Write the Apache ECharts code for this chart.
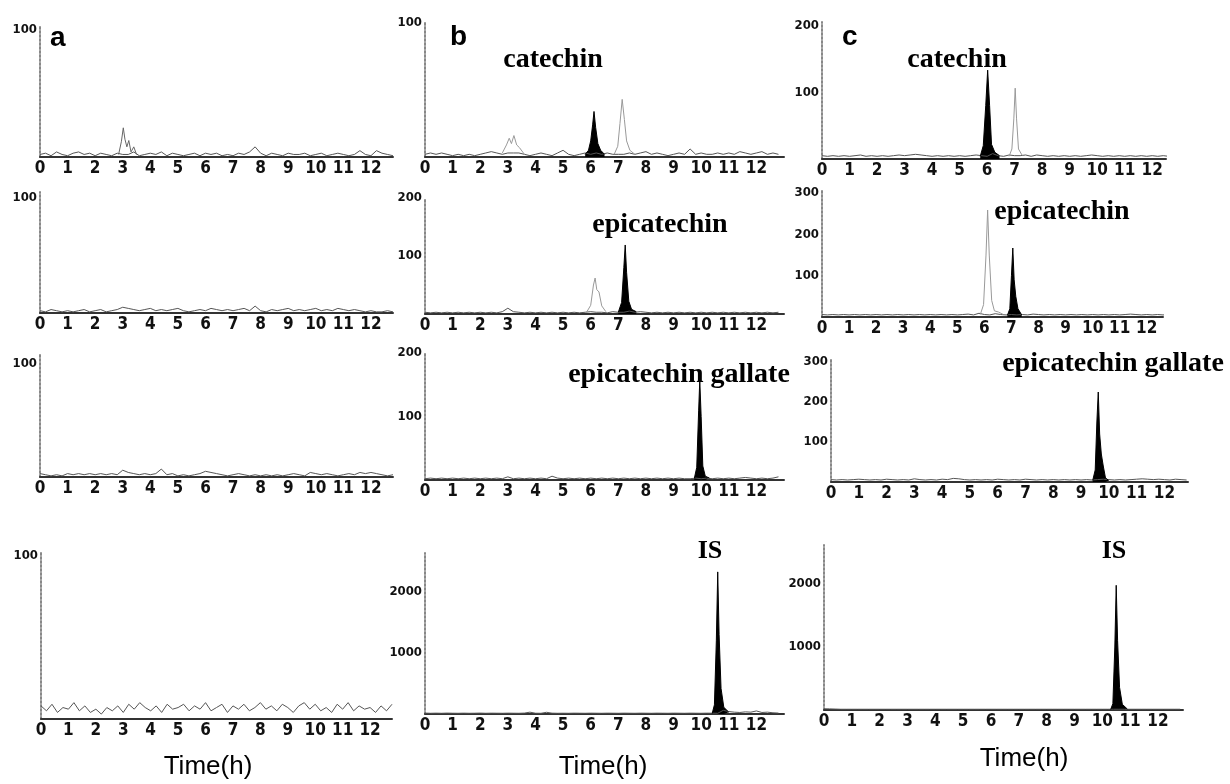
<!DOCTYPE html>
<html>
<head>
<meta charset="utf-8">
<script src="https://cdn.jsdelivr.net/npm/echarts@6/dist/echarts.min.js"></script>
<style>
  html, body { margin: 0; padding: 0; background: #fff; }
  #main { width: 1230px; height: 784px; }
</style>
</head>
<body>
<div id="main"></div>
<script>
// 时间轴采样点 (h)
const times = [
  0, 0.2, 0.4, 0.6, 0.8, 1, 1.2, 1.4, 1.6, 1.8, 2, 2.2, 2.4,
  2.6, 2.8, 3, 3.2, 3.4, 3.6, 3.8, 4, 4.2, 4.4, 4.6, 4.8, 5,
  5.2, 5.4, 5.6, 5.8, 6, 6.2, 6.4, 6.6, 6.8, 7, 7.2, 7.4, 7.6,
  7.8, 8, 8.2, 8.4, 8.6, 8.8, 9, 9.2, 9.4, 9.6, 9.8, 10, 10.2,
  10.4, 10.6, 10.8, 11, 11.2, 11.4, 11.6, 11.8, 12, 12.2, 12.4, 12.6, 12.8
];
const timeTicks = [0, 1, 2, 3, 4, 5, 6, 7, 8, 9, 10, 11, 12];

// y axis tick labels
const ticks100 = [100];
const ticks200 = [100, 200];
const ticks300 = [100, 200, 300];
const ticks2000 = [1000, 2000];

// baseline noise, column a
const noiseA1 = [
  2, 3, 1, 4, 2, 1, 3, 4, 2, 3, 1, 3, 2,
  1, 3, 2, 2, 4, 1, 2, 3, 2, 4, 1, 3, 2,
  1, 2, 3, 1, 3, 2, 3, 1, 2, 1, 3, 2, 4,
  8, 3, 1, 3, 2, 1, 3, 2, 2, 3, 1, 2, 3,
  1, 2, 3, 2, 1, 2, 5, 2, 1, 5, 3, 2, 1
];
const noiseA2 = [
  2, 1, 3, 2, 1, 2, 1, 2, 3, 1, 2, 3, 1,
  2, 3, 5, 4, 3, 2, 3, 4, 2, 3, 2, 3, 4,
  2, 1, 2, 3, 2, 4, 3, 2, 3, 2, 3, 4, 2,
  6, 2, 1, 3, 2, 3, 4, 2, 3, 2, 3, 4, 2,
  3, 2, 4, 3, 2, 3, 2, 1, 2, 1, 1, 2, 1
];
const noiseA3 = [
  3, 2, 1, 2, 1, 3, 2, 3, 2, 3, 2, 3, 2,
  3, 2, 6, 4, 3, 2, 3, 2, 3, 7, 2, 3, 1,
  2, 1, 2, 3, 5, 4, 3, 2, 1, 2, 3, 2, 1,
  2, 1, 2, 1, 2, 1, 2, 3, 2, 1, 4, 3, 2,
  3, 2, 1, 2, 3, 2, 4, 3, 4, 3, 2, 1, 2
];
const noiseA4 = [
  8, 5, 9, 4, 7, 6, 10, 5, 8, 4, 6, 3, 7,
  5, 8, 4, 9, 6, 10, 7, 5, 8, 4, 9, 6, 7,
  9, 5, 8, 6, 10, 5, 7, 9, 4, 8, 6, 9, 5,
  7, 10, 6, 8, 5, 9, 7, 4, 8, 10, 6, 9, 5,
  7, 4, 9, 6, 10, 5, 8, 6, 7, 4, 8, 5, 9
];
// column b
const noiseB1 = [
  2, 3, 2, 3, 2, 1, 2, 1, 2, 1, 2, 3, 4,
  3, 2, 3, 3, 3, 2, 1, 2, 3, 2, 1, 3, 5,
  2, 1, 2, 3, 2, 3, 2, 3, 2, 2, 2, 3, 2,
  3, 4, 2, 3, 2, 1, 2, 3, 2, 6, 2, 3, 2,
  2, 3, 2, 3, 2, 4, 3, 2, 3, 4, 2, 3, 2
];
const noiseB2 = [
  3, 2, 3, 2, 3, 2, 3, 2, 3, 2, 3, 2, 3,
  2, 4, 10, 4, 3, 2, 3, 2, 3, 2, 3, 2, 3,
  2, 3, 2, 3, 4, 3, 3, 2, 4, 3, 3, 5, 3,
  4, 3, 2, 3, 2, 3, 2, 3, 2, 3, 2, 3, 2,
  3, 2, 3, 2, 3, 2, 3, 2, 3, 2, 3, 2, 3
];
const noiseB3 = [
  2, 3, 2, 3, 2, 3, 2, 3, 2, 3, 2, 3, 2,
  3, 2, 5, 2, 3, 2, 3, 2, 3, 2, 6, 3, 2,
  3, 2, 3, 2, 3, 2, 3, 2, 3, 2, 3, 2, 3,
  2, 3, 2, 3, 2, 3, 2, 3, 2, 2, 3, 2, 3,
  2, 3, 2, 3, 2, 3, 4, 3, 2, 3, 2, 3, 5
];
const noiseB4 = [
  15, 12, 14, 12, 15, 13, 12, 14, 12, 13, 15, 12, 14,
  13, 12, 14, 13, 12, 15, 30, 13, 12, 28, 14, 12, 13,
  12, 14, 13, 12, 14, 13, 12, 14, 13, 12, 14, 13, 12,
  14, 13, 12, 14, 13, 12, 14, 13, 12, 14, 13, 12, 14,
  13, 12, 60, 40, 30, 25, 35, 30, 50, 25, 30, 20, 15
];
// column c
const noiseC1 = [
  5, 4, 5, 4, 5, 4, 5, 6, 4, 5, 4, 5, 4,
  5, 6, 5, 6, 7, 6, 5, 4, 5, 4, 5, 4, 5,
  4, 5, 6, 5, 4, 8, 5, 4, 6, 5, 5, 6, 4,
  6, 5, 4, 5, 4, 5, 4, 5, 4, 5, 6, 5, 4,
  5, 4, 5, 4, 5, 4, 5, 4, 5, 4, 5, 4, 5
];
const noiseC2 = [
  6, 5, 6, 5, 6, 5, 6, 5, 6, 5, 6, 5, 6,
  5, 6, 5, 6, 5, 6, 5, 6, 5, 6, 5, 6, 5,
  6, 7, 5, 9, 6, 5, 8, 6, 5, 6, 5, 6, 5,
  7, 6, 5, 6, 5, 6, 5, 6, 5, 6, 5, 6, 5,
  6, 5, 6, 5, 6, 7, 6, 5, 6, 5, 6, 5, 6
];
const noiseC3 = [
  6, 5, 6, 5, 6, 7, 6, 5, 6, 5, 7, 6, 5,
  6, 5, 8, 6, 5, 6, 5, 7, 6, 9, 8, 6, 5,
  6, 5, 6, 5, 7, 6, 5, 6, 5, 7, 6, 5, 6,
  5, 6, 5, 6, 5, 6, 5, 6, 5, 6, 7, 6, 5,
  6, 5, 6, 7, 8, 7, 6, 7, 6, 5, 7, 6, 5
];
const noiseC4 = [
  20, 18, 15, 12, 12, 12, 12, 12, 12, 12, 12, 12, 12,
  12, 12, 12, 12, 12, 12, 12, 12, 12, 12, 12, 12, 12,
  12, 12, 12, 12, 12, 12, 12, 12, 12, 12, 12, 12, 12,
  12, 12, 12, 12, 12, 12, 12, 12, 12, 12, 12, 12, 12,
  12, 12, 12, 12, 12, 12, 12, 12, 12, 12, 12, 12, 12
];

// peaks [time, response]
const peakA1 = [[2.85, 2], [2.95, 12], [3.02, 23], [3.08, 14], [3.15, 8], [3.22, 13], [3.3, 4], [3.4, 8], [3.5, 2]];
const peakB1a = [[2.8, 3], [2.95, 9], [3.05, 14], [3.13, 10], [3.22, 16], [3.32, 9], [3.42, 7], [3.6, 2]];
const peakB1Cat = [[5.8, 2], [5.92, 5], [6.0, 12], [6.07, 24], [6.12, 34], [6.18, 22], [6.26, 10], [6.36, 5], [6.5, 2]];
const peakB1b = [[6.85, 2], [6.98, 8], [7.06, 25], [7.14, 43], [7.22, 28], [7.3, 12], [7.42, 5], [7.6, 2]];
const peakB2a = [[5.85, 3], [6.0, 15], [6.1, 50], [6.16, 62], [6.22, 42], [6.3, 38], [6.4, 14], [6.55, 4]];
const peakB2Epi = [[7.0, 3], [7.12, 20], [7.2, 80], [7.25, 119], [7.3, 72], [7.38, 22], [7.48, 8], [7.65, 4]];
const peakB3Ecg = [[9.75, 2], [9.84, 20], [9.91, 110], [9.95, 157], [10.0, 100], [10.06, 22], [10.15, 6], [10.3, 3]];
const peakB4IS = [[10.4, 10], [10.48, 150], [10.55, 1200], [10.6, 2330], [10.65, 1300], [10.72, 420], [10.82, 110], [11.0, 30]];
const peakC1Cat = [[5.75, 4], [5.86, 20], [5.95, 80], [6.02, 133], [6.09, 80], [6.16, 22], [6.28, 10], [6.45, 5]];
const peakC1b = [[6.8, 4], [6.9, 15], [6.97, 60], [7.02, 106], [7.07, 60], [7.14, 15], [7.28, 5]];
const peakC2a = [[5.85, 6], [5.97, 30], [6.06, 150], [6.12, 259], [6.18, 150], [6.27, 40], [6.37, 15], [6.52, 12], [6.7, 6]];
const peakC2Epi = [[6.85, 4], [6.94, 20], [7.0, 100], [7.05, 167], [7.1, 90], [7.16, 50], [7.24, 20], [7.38, 5]];
const peakC3Ecg = [[9.42, 4], [9.51, 30], [9.57, 150], [9.62, 225], [9.67, 120], [9.73, 70], [9.8, 40], [9.88, 10], [10.0, 4]];
const peakC4IS = [[10.3, 8], [10.38, 100], [10.45, 1000], [10.5, 1980], [10.55, 1100], [10.62, 360], [10.72, 90], [10.9, 15]];

// 面板布局
const panels = [
  { left: 40, top: 25, width: 353, height: 132, xMax: 12.8, yMax: 104, step: 100, yTicks: ticks100, noise: noiseA1, peaks: [{ data: peakA1, fill: false, color: '#666' }] },
  { left: 40, top: 192, width: 353, height: 121, xMax: 12.8, yMax: 105, step: 100, yTicks: ticks100, noise: noiseA2, peaks: [] },
  { left: 40, top: 353, width: 353, height: 124, xMax: 12.8, yMax: 109, step: 100, yTicks: ticks100, noise: noiseA3, peaks: [] },
  { left: 41, top: 552, width: 351, height: 167, xMax: 12.8, yMax: 102, step: 100, yTicks: ticks100, noise: noiseA4, peaks: [] },
  { left: 425, top: 23, width: 359, height: 134, xMax: 13, yMax: 100, step: 100, yTicks: ticks100, noise: noiseB1,
    peaks: [{ data: peakB1a, fill: false }, { data: peakB1Cat, fill: true }, { data: peakB1b, fill: false }] },
  { left: 425, top: 198, width: 359, height: 116, xMax: 13, yMax: 200, step: 100, yTicks: ticks200, noise: noiseB2,
    peaks: [{ data: peakB2a, fill: false }, { data: peakB2Epi, fill: true }] },
  { left: 425, top: 353, width: 359, height: 127, xMax: 13, yMax: 200, step: 100, yTicks: ticks200, noise: noiseB3,
    peaks: [{ data: peakB3Ecg, fill: true }] },
  { left: 425, top: 553, width: 359, height: 161, xMax: 13, yMax: 2640, step: 1000, yTicks: ticks2000, noise: noiseB4,
    peaks: [{ data: peakB4IS, fill: true }] },
  { left: 822, top: 22, width: 344, height: 137, xMax: 12.5, yMax: 205, step: 100, yTicks: ticks200, noise: noiseC1,
    peaks: [{ data: peakC1Cat, fill: true }, { data: peakC1b, fill: false }] },
  { left: 822, top: 191, width: 341, height: 126, xMax: 12.6, yMax: 305, step: 100, yTicks: ticks300, noise: noiseC2,
    peaks: [{ data: peakC2a, fill: false }, { data: peakC2Epi, fill: true }] },
  { left: 831, top: 358, width: 357, height: 124, xMax: 12.85, yMax: 310, step: 100, yTicks: ticks300, noise: noiseC3,
    peaks: [{ data: peakC3Ecg, fill: true }] },
  { left: 824, top: 545, width: 359, height: 165, xMax: 12.9, yMax: 2620, step: 1000, yTicks: ticks2000, noise: noiseC4,
    peaks: [{ data: peakC4IS, fill: true }] }
];

const tickFont = '"DejaVu Sans Condensed", sans-serif';
const grid = [], xAxis = [], yAxis = [], series = [];

panels.forEach((p, i) => {
  grid.push({ left: p.left, top: p.top, width: p.width, height: p.height });
  xAxis.push({
    type: 'value', gridIndex: i, min: 0, max: p.xMax, interval: 1,
    axisLine: { lineStyle: { color: '#333', width: 2 } },
    axisTick: { show: false },
    splitLine: { show: false },
    axisLabel: {
      margin: 3, color: '#111', fontSize: 17, fontWeight: 'bold', fontFamily: tickFont,
      showMinLabel: true, showMaxLabel: true,
      formatter: v => (timeTicks.includes(v) ? String(v) : '')
    }
  });
  yAxis.push({
    type: 'value', gridIndex: i, min: 0, max: p.yMax, interval: p.step,
    axisLine: { show: true, lineStyle: { color: '#888', width: 2, type: 'dotted' } },
    axisTick: { show: false },
    splitLine: { show: false },
    axisLabel: {
      margin: 3, color: '#111', fontSize: 13, fontWeight: 'bold', fontFamily: tickFont,
      formatter: v => (p.yTicks.includes(v) ? String(v) : '')
    }
  });
  series.push({
    type: 'line', xAxisIndex: i, yAxisIndex: i,
    data: times.map((t, k) => [t, p.noise[k]]),
    symbol: 'none', silent: true,
    lineStyle: { color: '#555', width: 1 }
  });
  p.peaks.forEach(pk => {
    series.push({
      type: 'line', xAxisIndex: i, yAxisIndex: i, data: pk.data,
      symbol: 'none', silent: true, z: 3,
      lineStyle: { color: pk.fill ? '#000' : (pk.color || '#999'), width: 1 },
      areaStyle: pk.fill ? { color: '#000', opacity: 1 } : null
    });
  });
});

const serif = '"Liberation Serif", "DejaVu Serif", serif';
const sans = '"Liberation Sans", Arial, sans-serif';
const txt = (x, y, text, size, family, weight, align) => ({
  type: 'text', x: x, y: y, silent: true,
  style: { text: text, fontSize: size, fontFamily: family, fontWeight: weight, fill: '#000', align: align || 'center', verticalAlign: 'middle' }
});

const chart = echarts.init(document.getElementById('main'));
chart.setOption({
  animation: false,
  grid: grid,
  xAxis: xAxis,
  yAxis: yAxis,
  series: series,
  graphic: [
    txt(50, 38, 'a', 28, sans, 'bold', 'left'),
    txt(450, 37, 'b', 28, sans, 'bold', 'left'),
    txt(842, 37, 'c', 28, sans, 'bold', 'left'),
    txt(553, 60, 'catechin', 28, serif, 'bold'),
    txt(957, 60, 'catechin', 28, serif, 'bold'),
    txt(660, 225, 'epicatechin', 28, serif, 'bold'),
    txt(1062, 212, 'epicatechin', 28, serif, 'bold'),
    txt(679, 375, 'epicatechin gallate', 28, serif, 'bold'),
    txt(1113, 364, 'epicatechin gallate', 28, serif, 'bold'),
    txt(710, 551, 'IS', 26, serif, 'bold'),
    txt(1114, 551, 'IS', 26, serif, 'bold'),
    txt(208, 767, 'Time(h)', 26, sans, 'normal'),
    txt(603, 767, 'Time(h)', 26, sans, 'normal'),
    txt(1024, 759, 'Time(h)', 26, sans, 'normal')
  ]
});
</script>
</body>
</html>
